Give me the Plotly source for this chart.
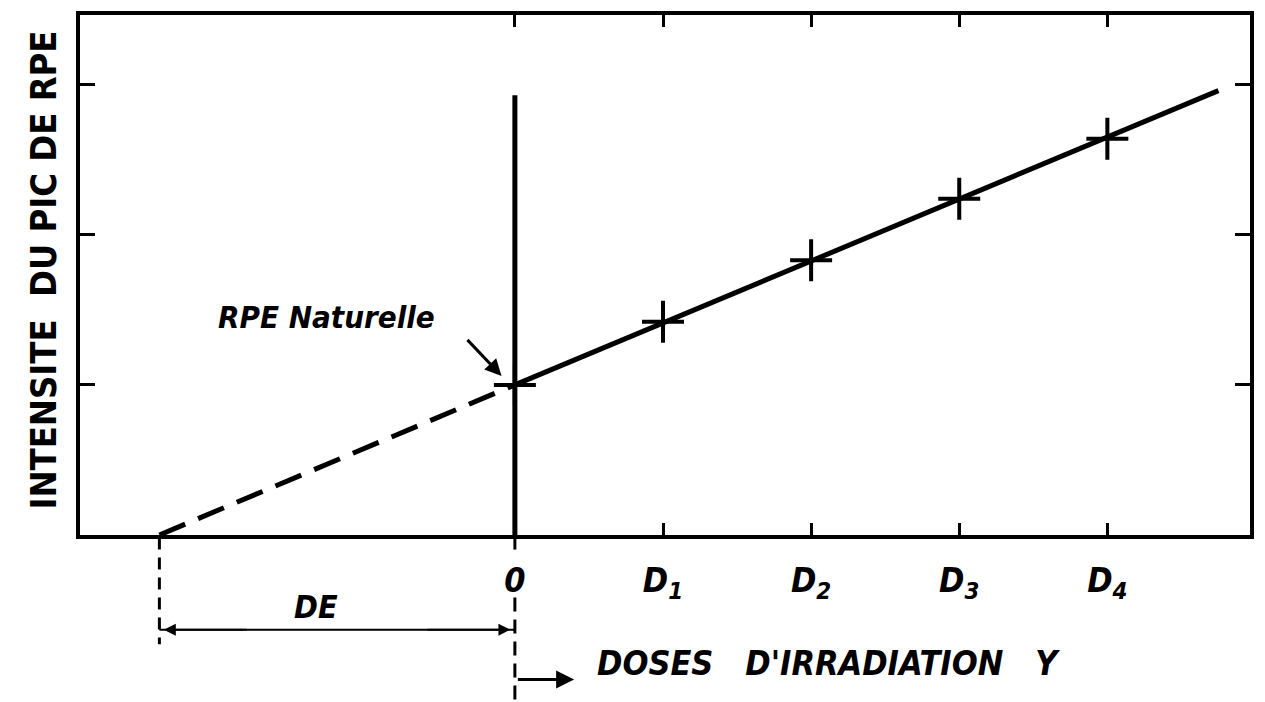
import plotly.graph_objects as go

# ---- data ----
dose_labels = ["0", "D<sub>1</sub>", "D<sub>2</sub>", "D<sub>3</sub>", "D<sub>4</sub>"]
dose_x = [0, 1, 2, 3, 4]
signal_y = [1.0, 1.42, 1.83, 2.24, 2.64]
fit_solid_x = [0, 4.75]
fit_solid_y = [1.0, 2.96]
extrap_x = [-2.40, 0]
extrap_y = [0.0, 1.0]
zero_line_x = [0, 0]
zero_line_y = [0.0, 2.93]
de_value = -2.40
y_ticks = [1, 2, 3]

FONT = "DejaVu Sans Condensed, Liberation Sans Narrow, Arial Narrow, sans-serif"

fig = go.Figure()

# extrapolation (dashed)
fig.add_trace(go.Scatter(x=extrap_x, y=extrap_y, mode="lines",
                         line=dict(color="black", width=5, dash="28px,14px"),
                         hoverinfo="skip"))
# fitted growth line
fig.add_trace(go.Scatter(x=fit_solid_x, y=fit_solid_y, mode="lines",
                         line=dict(color="black", width=5), hoverinfo="skip"))
# vertical line at dose 0
fig.add_trace(go.Scatter(x=zero_line_x, y=zero_line_y, mode="lines",
                         line=dict(color="black", width=5), hoverinfo="skip"))
# measured points
fig.add_trace(go.Scatter(x=dose_x, y=signal_y, mode="markers",
                         marker=dict(symbol="cross-thin-open", size=30, color="black",
                                     line=dict(color="black", width=4)),
                         hoverinfo="skip"))

# dashed guide lines below the axis
fig.add_shape(type="line", xref="x", yref="paper", x0=de_value, x1=de_value,
              y0=-0.005, y1=-0.21, line=dict(color="black", width=3, dash="12px,8px"))
fig.add_shape(type="line", xref="x", yref="paper", x0=0, x1=0,
              y0=-0.005, y1=-0.04, line=dict(color="black", width=3, dash="12px,8px"))
fig.add_shape(type="line", xref="x", yref="paper", x0=0, x1=0,
              y0=-0.12, y1=-0.32, line=dict(color="black", width=3, dash="14px,8px"))
# DE dimension line
fig.add_shape(type="line", xref="x", yref="paper", x0=de_value, x1=0,
              y0=-0.182, y1=-0.182, line=dict(color="black", width=2))
fig.add_annotation(xref="x", yref="paper", x=de_value + 0.03, y=-0.182,
                   axref="x", ax=de_value + 0.6, ay=0, text="", showarrow=True,
                   arrowhead=2, arrowsize=1.2, arrowwidth=2, arrowcolor="black")
fig.add_annotation(xref="x", yref="paper", x=-0.03, y=-0.182,
                   axref="x", ax=-0.6, ay=0, text="", showarrow=True,
                   arrowhead=2, arrowsize=1.2, arrowwidth=2, arrowcolor="black")
fig.add_annotation(xref="x", yref="paper", x=-1.34, y=-0.138,
                   xanchor="center", yanchor="middle",
                   text="<i><b>DE</b></i>", showarrow=False,
                   font=dict(family=FONT, size=32, color="black"))
# doses arrow and label
fig.add_annotation(xref="x", yref="paper", x=0.40, y=-0.278,
                   axref="x", ax=0.01, ay=0, text="", showarrow=True,
                   arrowhead=2, arrowsize=1.2, arrowwidth=3, arrowcolor="black")
fig.add_annotation(xref="x", yref="paper", x=0.54, y=-0.247,
                   xanchor="left", yanchor="middle",
                   text="<i><b>DOSES   D'IRRADIATION   Y</b></i>", showarrow=False,
                   font=dict(family=FONT, size=34, color="black"))
# RPE naturelle label + arrow
fig.add_annotation(xref="x", yref="y", x=-1.27, y=1.45,
                   xanchor="center", yanchor="middle",
                   text="<i><b>RPE Naturelle</b></i>", showarrow=False,
                   font=dict(family=FONT, size=31, color="black"))
fig.add_annotation(xref="x", yref="y", x=-0.09, y=1.06,
                   axref="x", ayref="y", ax=-0.33, ay=1.31, text="",
                   showarrow=True, arrowhead=2, arrowsize=1.1, arrowwidth=3,
                   arrowcolor="black")
# y-axis title
fig.add_annotation(xref="paper", yref="paper", x=-0.031, y=0.51,
                   xanchor="center", yanchor="middle",
                   text="<b>INTENSITE  DU PIC DE RPE</b>", textangle=-90,
                   showarrow=False,
                   font=dict(family=FONT, size=36, color="black"))

fig.update_layout(
    width=1265, height=702,
    margin=dict(l=80, r=11, t=12, b=167),
    paper_bgcolor="white", plot_bgcolor="white",
    showlegend=False,
    xaxis=dict(range=[-2.936, 4.963], showgrid=False, zeroline=False,
               showline=True, linewidth=4, linecolor="black", mirror="allticks",
               ticks="inside", ticklen=12, tickwidth=3, tickcolor="black",
               tickvals=dose_x, ticktext=["<i><b>%s</b></i>" % t for t in dose_labels],
               ticklabelstandoff=12,
               tickfont=dict(family=FONT, size=34, color="black")),
    yaxis=dict(range=[0, 3.464], showgrid=False, zeroline=False,
               showline=True, linewidth=4, linecolor="black", mirror="allticks",
               ticks="inside", ticklen=15, tickwidth=3, tickcolor="black",
               tickvals=y_ticks, showticklabels=False),
)

fig.write_html("out.html", config={"displayModeBar": False},
               post_script="document.body.style.margin='0';document.body.style.overflow='hidden';")
